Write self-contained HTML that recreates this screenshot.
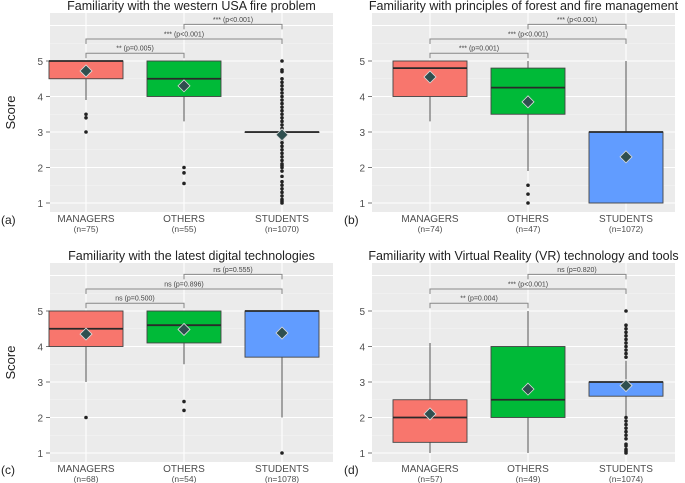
<!DOCTYPE html>
<html><head><meta charset="utf-8">
<style>
body{margin:0;background:#fff;}
svg{display:block;font-family:"Liberation Sans",sans-serif;}
</style></head>
<body>
<svg id="chart" width="685" height="483" viewBox="0 0 685 483" xmlns="http://www.w3.org/2000/svg"></svg>
<script>
const categories = ["MANAGERS","OTHERS","STUDENTS"];
const titles = ["Familiarity with the western USA fire problem","Familiarity with principles of forest and fire management","Familiarity with the latest digital technologies","Familiarity with Virtual Reality (VR) technology and tools"];
const panelLetters = ["(a)","(b)","(c)","(d)"];
const counts = [[75,55,1070],[74,47,1072],[68,54,1078],[57,49,1074]];
const yTicks = [1,2,3,4,5];
// [whiskerLow, q1, median, q3, whiskerHigh, mean]
const statsA = [[3.9,4.5,5,5,5,4.72],[3.3,4,4.5,5,5,4.3],[3,3,3,3,3,2.92]];
const statsB = [[3.3,4,4.8,5,5,4.55],[1.9,3.5,4.25,4.8,5,3.85],[1,1,3,3,5,2.3]];
const statsC = [[3,4,4.5,5,5,4.35],[3.5,4.1,4.6,5,5,4.48],[2,3.7,5,5,5,4.38]];
const statsD = [[1,1.3,2,2.5,4.1,2.1],[1,2,2.5,4,5,2.8],[2,2.6,3,3,3.6,2.9]];
const outliersA = [[3.5,3.4,3.0],[2,1.85,1.55],[1,1.05,1.1,1.2,1.3,1.4,1.5,1.6,1.75,1.9,2,2.05,2.1,2.2,2.3,2.4,2.5,2.6,2.7,2.8,3.1,3.2,3.3,3.4,3.5,3.6,3.7,3.8,3.9,4,4.1,4.2,4.3,4.4,4.5,4.7,4.75,5]];
const outliersB = [[],[1.5,1.25,1.0],[]];
const outliersC = [[2],[2.45,2.2],[1]];
const outliersD = [[],[],[1,1.05,1.1,1.2,1.25,1.4,1.5,1.6,1.7,1.8,1.9,2,3.7,3.8,3.9,4,4.1,4.2,4.3,4.4,4.5,4.6,5]];
const bracketLabels = [["** (p=0.005)","*** (p<0.001)","*** (p<0.001)"],["*** (p=0.001)","*** (p<0.001)","*** (p<0.001)"],["ns (p=0.500)","ns (p=0.896)","ns (p=0.555)"],["** (p=0.004)","*** (p<0.001)","ns (p=0.820)"]];
const bracketLevels = [5.22,5.62,6.03];

const allStats=[statsA,statsB,statsC,statsD];
const allOut=[outliersA,outliersB,outliersC,outliersD];
const colors=["#F8766D","#00BA38","#619CFF"];
const NS="http://www.w3.org/2000/svg";
const svg=document.getElementById('chart');
function mk(tag,attrs,parent){const e=document.createElementNS(NS,tag);for(const k in attrs)e.setAttribute(k,attrs[k]);(parent||svg).appendChild(e);return e;}

for(let p=0;p<4;p++){
  const col=p%2,row=Math.floor(p/2);
  const left=col?372:50, right=col?675:333;
  const top=13+row*250, bottom=212+row*250;
  const y=v=>row*250+203-(v-1)*35.5;
  const xc=i=>left+36+i*98*(right-left)/283*(283/283)+ (col?22:0)*0;
  const cx=i=>(col?430:86)+i*98;
  const g=mk('g',{});
  
  
  const bg=mk('rect',{x:left,y:top,width:right-left,height:bottom-top,fill:'#ebebeb'},g);
  
  
  // minor grid
  for(let v=0.5;v<=6.5;v+=1){const yy=y(v);if(yy>top&&yy<bottom)mk('line',{x1:left,x2:right,y1:yy,y2:yy,stroke:'#f6f6f6','stroke-width':0.6},g);}
  for(let v=0;v<=7;v++){const yy=y(v);if(yy>top&&yy<bottom)mk('line',{x1:left,x2:right,y1:yy,y2:yy,stroke:'#fff','stroke-width':1.1},g);}
  for(let i=0;i<3;i++)mk('line',{x1:cx(i),x2:cx(i),y1:top,y2:bottom,stroke:'#fff','stroke-width':1.1},g);
  // y ticks
  yTicks.forEach(t=>{
    const tl=mk('text',{x:left-7,y:y(t)+4,'font-size':10,fill:'#4d4d4d','text-anchor':'end'},g);tl.textContent=t;
    
    
    mk('line',{x1:left-4,x2:left,y1:y(t),y2:y(t),stroke:'#555','stroke-width':0.8},g);
  });
  if(col===0){
    const yl=mk('text',{x:15,y:(top+bottom)/2,'font-size':13,fill:'#222','text-anchor':'middle',transform:`rotate(-90 15 ${(top+bottom)/2})`},g);yl.textContent='Score';
    
    
  }
  const tt=mk('text',{x:(left+right)/2,y:row*250+10,'font-size':12.5,fill:'#222','text-anchor':'middle'},g);tt.textContent=titles[p];
  
  
  const pl=mk('text',{x:col?344:1,y:row*250+224,'font-size':12,fill:'#222'},g);pl.textContent=panelLetters[p];
  
  
  const hw=37;
  for(let i=0;i<3;i++){
    const s=allStats[p][i],x=cx(i);
    const bx=mk('g',{},g);
    
    
    mk('line',{x1:x,x2:x,y1:y(s[0]),y2:y(s[1]),stroke:'#555','stroke-width':1},bx);
    mk('line',{x1:x,x2:x,y1:y(s[3]),y2:y(s[4]),stroke:'#555','stroke-width':1},bx);
    mk('rect',{x:x-hw,y:y(s[3]),width:2*hw,height:Math.max(0.5,y(s[1])-y(s[3])),fill:colors[i],stroke:'#444','stroke-width':0.9},bx);
    mk('line',{x1:x-hw,x2:x+hw,y1:y(s[2]),y2:y(s[2]),stroke:'#2a2a2a','stroke-width':1.8},bx);
    allOut[p][i].forEach(v=>mk('circle',{cx:x,cy:y(v),r:1.8,fill:'#222'},bx));
    const m=y(s[5]);
    mk('polygon',{points:`${x},${m-6} ${x+6},${m} ${x},${m+6} ${x-6},${m}`,fill:'#2F4F4F',stroke:'#ddd','stroke-width':0.8},bx);
    const cl=mk('text',{x:x,y:bottom+10,'font-size':10,fill:'#4d4d4d','text-anchor':'middle'},g);cl.textContent=categories[i];
    
    
    const nl=mk('text',{x:x,y:bottom+20,'font-size':8.5,fill:'#4d4d4d','text-anchor':'middle'},g);nl.textContent='(n='+counts[p][i]+')';
    
    
  }
  const pairs=[[0,1],[0,2],[1,2]];
  pairs.forEach((pr,k)=>{
    const yy=y(bracketLevels[k]),x1=cx(pr[0]),x2=cx(pr[1]);
    const br=mk('g',{},g);
    
    
    mk('polyline',{points:`${x1},${yy+5} ${x1},${yy} ${x2},${yy} ${x2},${yy+5}`,fill:'none',stroke:'#888','stroke-width':1},br);
    const bl=mk('text',{x:(x1+x2)/2,y:yy-2.5,'font-size':7,fill:'#444','text-anchor':'middle'},br);bl.textContent=bracketLabels[p][k];
  });
}
</script>
</body></html>
